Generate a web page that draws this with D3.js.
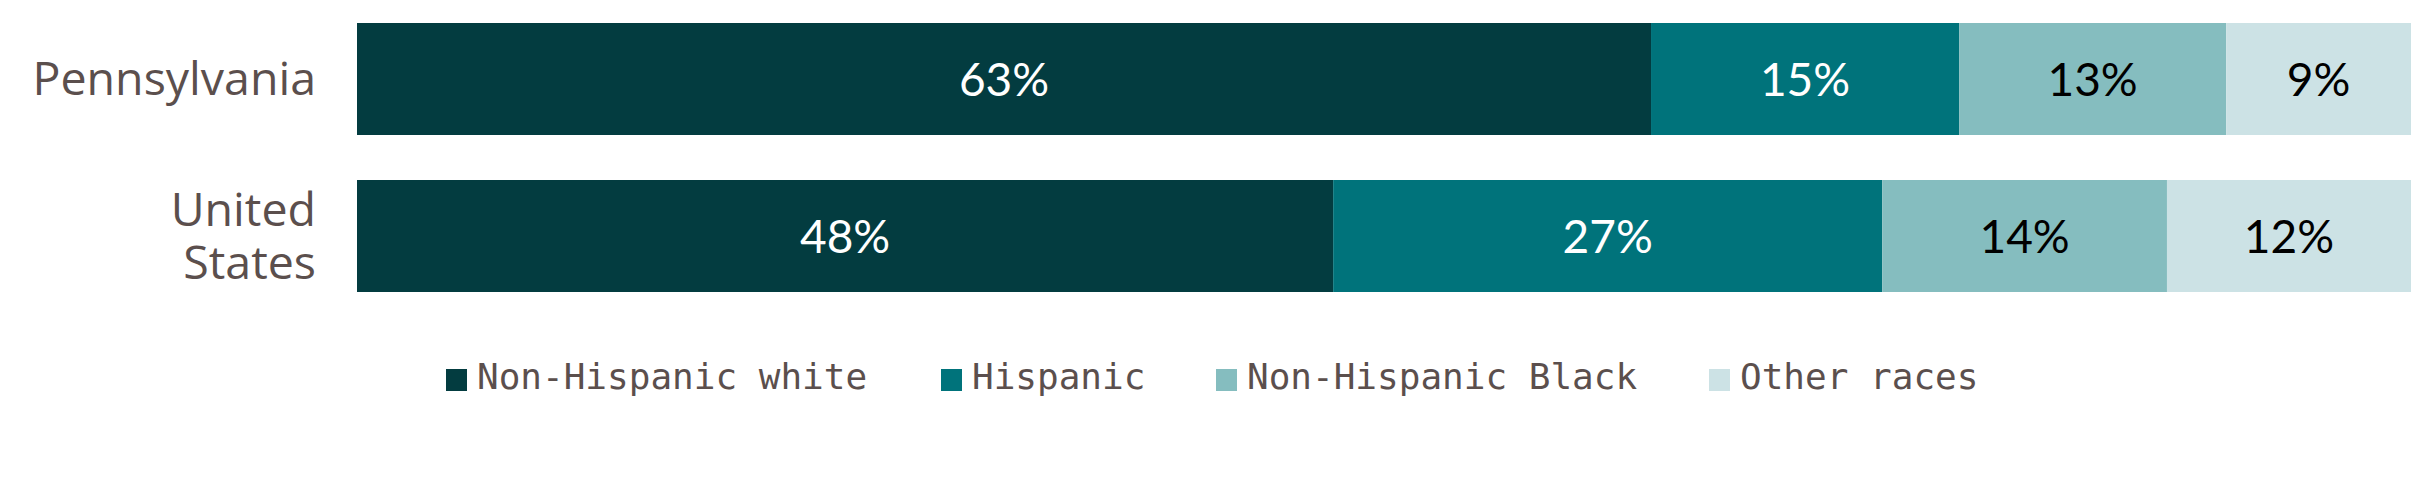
<!DOCTYPE html>
<html>
<head>
<meta charset="utf-8">
<script src="https://cdn.jsdelivr.net/npm/d3@7"></script>
<style>
  html, body { margin: 0; padding: 0; background: #fff; }
  svg { display: block; }
</style>
</head>
<body>
<div id="chart"></div>
<script>
    'use strict';

    // data
    var regions = ["Pennsylvania", "United States"];
    var regionLines = [["Pennsylvania"], ["United", "States"]];
    var groups = ["Non-Hispanic white", "Hispanic", "Non-Hispanic Black", "Other races"];
    var nhWhite = [63, 48];
    var hispanic = [15, 27];
    var nhBlack = [13, 14];
    var otherRaces = [9, 12];
    var colors = ["#033c40", "#00737b", "#85bdbf", "#cce2e5"];
    var labelColors = ["#ffffff", "#ffffff", "#000000", "#000000"];

    var width = 2415, height = 485;
    var textColor = "#5b4f4d";

    var rows = regions.map(function (r, i) {
        return {
            region: r,
            "Non-Hispanic white": nhWhite[i],
            "Hispanic": hispanic[i],
            "Non-Hispanic Black": nhBlack[i],
            "Other races": otherRaces[i]
        };
    });

    // each row is scaled to its own total (US rounds to 101)
    var series = d3.stack()
        .keys(groups)
        .offset(d3.stackOffsetExpand)(rows);

    var svg = d3.select("#chart")
        .append("svg")
        .attr("width", width)
        .attr("height", height);

    var x = d3.scaleLinear()
        .domain([0, 1])
        .range([357, 2411]);

    var y = d3.scaleBand()
        .domain(regions)
        .range([23, 292])
        .paddingInner(45 / 157)
        .paddingOuter(0);

    // bars
    var layer = svg.selectAll("g.layer")
        .data(series)
        .enter()
        .append("g")
        .attr("class", "layer")
        .attr("fill", function (d, i) { return colors[i]; });

    layer.selectAll("rect")
        .data(function (d) { return d; })
        .enter()
        .append("rect")
        .attr("x", function (d) { return x(d[0]); })
        .attr("y", function (d) { return y(d.data.region); })
        .attr("width", function (d) { return x(d[1]) - x(d[0]); })
        .attr("height", y.bandwidth());

    // value labels
    series.forEach(function (s, si) {
        svg.selectAll("text.val" + si)
            .data(s)
            .enter()
            .append("text")
            .attr("class", "val" + si)
            .attr("x", function (d) { return (x(d[0]) + x(d[1])) / 2; })
            .attr("y", function (d) { return y(d.data.region) + y.bandwidth() / 2 + 17; })
            .attr("text-anchor", "middle")
            .attr("font-family", "Lato, sans-serif")
            .attr("font-size", 46)
            .attr("fill", labelColors[si])
            .text(function (d) { return d.data[s.key] + "%"; });
    });

    // category labels, one text per line
    regions.forEach(function (r, i) {
        var lines = regionLines[i];
        var cy = y(r) + y.bandwidth() / 2;
        var lh = 53;
        lines.forEach(function (line, j) {
            svg.append("text")
                .attr("x", 316)
                .attr("y", cy + 16 + (j - (lines.length - 1) / 2) * lh)
                .attr("text-anchor", "end")
                .attr("font-family", "'Open Sans', sans-serif")
                .attr("font-size", 46.5)
                .attr("fill", textColor)
                .text(line);
        });
    });

    // legend
    var legendX = [446, 941, 1216, 1709];
    var legend = svg.selectAll("g.legend")
        .data(groups)
        .enter()
        .append("g")
        .attr("class", "legend")
        .attr("transform", function (d, i) { return "translate(" + legendX[i] + ",369)"; });

    legend.append("rect")
        .attr("width", 21)
        .attr("height", 22)
        .attr("fill", function (d, i) { return colors[i]; });

    legend.append("text")
        .attr("x", 31)
        .attr("y", 20)
        .attr("font-family", "'DejaVu Sans Mono', monospace")
        .attr("font-size", 36)
        .attr("fill", textColor)
        .text(function (d) { return d; });
</script>
</body>
</html>
